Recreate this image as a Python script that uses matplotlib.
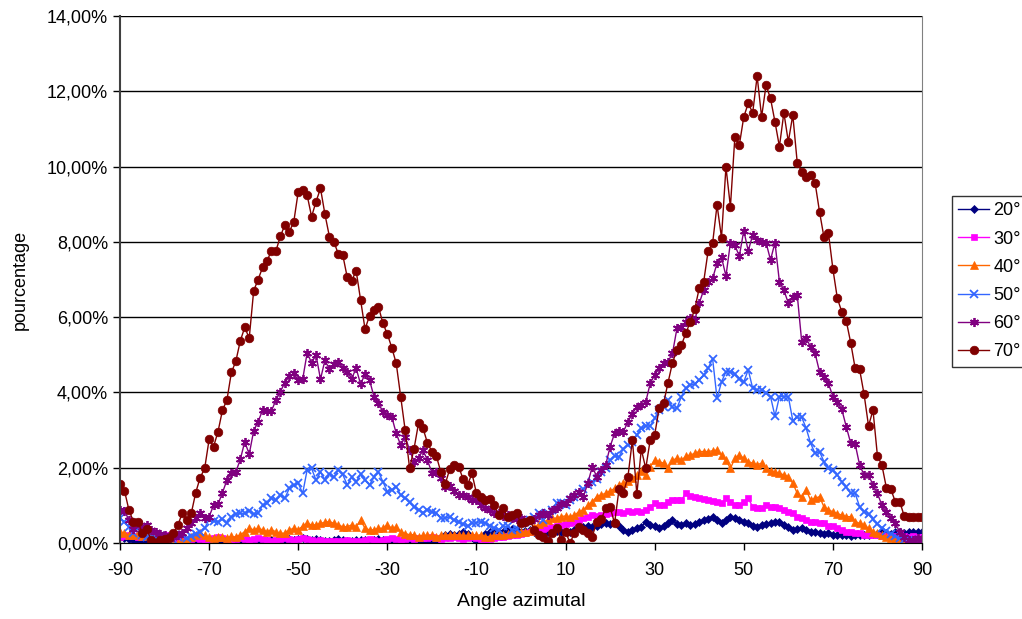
import numpy as np
import matplotlib
matplotlib.use("Agg")
import matplotlib.pyplot as plt
from matplotlib.ticker import FuncFormatter

plt.rcParams['font.family'] = ['Liberation Sans', 'DejaVu Sans']
plt.rcParams['axes.unicode_minus'] = False

# azimuth angle, one value per degree
angles = np.arange(-90, 91)

# percentages, rows of 10 values (-90..-81, -80..-71, ...)
s20 = [0.15, 0.12, 0.10, 0.08, 0.05, 0.04, 0.05, 0.06, 0.04, 0.03,
       0.02, 0.03, 0.02, 0.04, 0.05, 0.03, 0.02, 0.03, 0.04, 0.05,
       0.04, 0.03, 0.05, 0.06, 0.04, 0.03, 0.05, 0.04, 0.03, 0.04,
       0.05, 0.04, 0.06, 0.05, 0.07, 0.06, 0.05, 0.08, 0.10, 0.08,
       0.10, 0.12, 0.10, 0.08, 0.10, 0.07, 0.05, 0.06, 0.08, 0.10,
       0.08, 0.06, 0.05, 0.07, 0.09, 0.08, 0.06, 0.08, 0.10, 0.08,
       0.06, 0.05, 0.04, 0.06, 0.05, 0.04, 0.05, 0.07, 0.05, 0.04,
       0.05, 0.08, 0.15, 0.22, 0.25, 0.22, 0.25, 0.28, 0.25, 0.15,
       0.05, 0.15, 0.25, 0.30, 0.33, 0.30, 0.30, 0.35, 0.38, 0.35,
       0.30, 0.33, 0.35, 0.30, 0.28, 0.30, 0.28, 0.30, 0.33, 0.30,
       0.32, 0.30, 0.35, 0.40, 0.42, 0.45, 0.42, 0.45, 0.50, 0.52,
       0.50, 0.55, 0.45, 0.35, 0.30, 0.35, 0.40, 0.43, 0.57, 0.48,
       0.45, 0.39, 0.45, 0.52, 0.61, 0.50, 0.48, 0.52, 0.48, 0.50,
       0.57, 0.61, 0.65, 0.70, 0.60, 0.52, 0.62, 0.70, 0.66, 0.60,
       0.57, 0.52, 0.45, 0.43, 0.48, 0.50, 0.52, 0.55, 0.57, 0.48,
       0.43, 0.35, 0.37, 0.39, 0.35, 0.30, 0.28, 0.26, 0.24, 0.26,
       0.22, 0.20, 0.22, 0.20, 0.18, 0.20, 0.22, 0.20, 0.22, 0.24,
       0.25, 0.28, 0.26, 0.25, 0.28, 0.30, 0.26, 0.28, 0.30, 0.28, 0.30]

s30 = [0.15, 0.18, 0.20, 0.18, 0.15, 0.17, 0.20, 0.18, 0.20, 0.22,
       0.20, 0.17, 0.15, 0.12, 0.10, 0.08, 0.10, 0.12, 0.10, 0.08,
       0.10, 0.12, 0.15, 0.12, 0.10, 0.08, 0.10, 0.12, 0.10, 0.08,
       0.10, 0.12, 0.10, 0.08, 0.05, 0.07, 0.10, 0.12, 0.10, 0.08,
       0.10, 0.12, 0.10, 0.08, 0.05, 0.07, 0.05, 0.04, 0.05, 0.06,
       0.05, 0.07, 0.05, 0.04, 0.05, 0.07, 0.10, 0.08, 0.06, 0.08,
       0.10, 0.12, 0.10, 0.08, 0.10, 0.12, 0.10, 0.12, 0.14, 0.12,
       0.15, 0.12, 0.10, 0.12, 0.14, 0.15, 0.12, 0.10, 0.12, 0.15,
       0.12, 0.10, 0.08, 0.10, 0.12, 0.15, 0.15, 0.18, 0.20, 0.22,
       0.25, 0.27, 0.30, 0.32, 0.35, 0.37, 0.40, 0.42, 0.45, 0.48,
       0.50, 0.54, 0.55, 0.60, 0.66, 0.70, 0.74, 0.72, 0.74, 0.78,
       0.80, 0.82, 0.83, 0.80, 0.85, 0.83, 0.85, 0.83, 0.88, 0.95,
       1.05, 1.00, 1.02, 1.10, 1.14, 1.14, 1.14, 1.32, 1.25, 1.23,
       1.19, 1.17, 1.14, 1.12, 1.08, 1.05, 1.19, 1.10, 1.00, 1.00,
       1.10, 1.19, 0.96, 0.94, 0.92, 1.00, 0.96, 0.96, 0.92, 0.88,
       0.83, 0.79, 0.70, 0.66, 0.61, 0.57, 0.57, 0.52, 0.52, 0.44,
       0.44, 0.39, 0.35, 0.30, 0.30, 0.26, 0.26, 0.21, 0.21, 0.20,
       0.20, 0.18, 0.18, 0.17, 0.18, 0.20, 0.18, 0.17, 0.18, 0.17, 0.17]

s40 = [0.30, 0.26, 0.22, 0.20, 0.25, 0.18, 0.20, 0.22, 0.18, 0.15,
       0.10, 0.06, 0.03, 0.00, 0.04, 0.08, 0.15, 0.22, 0.26, 0.20,
       0.15, 0.12, 0.17, 0.15, 0.12, 0.18, 0.15, 0.22, 0.30, 0.39,
       0.35, 0.39, 0.35, 0.30, 0.35, 0.30, 0.26, 0.26, 0.35, 0.39,
       0.35, 0.45, 0.52, 0.48, 0.48, 0.52, 0.55, 0.57, 0.52, 0.48,
       0.43, 0.43, 0.48, 0.43, 0.60, 0.39, 0.35, 0.35, 0.39, 0.39,
       0.48, 0.39, 0.43, 0.30, 0.25, 0.22, 0.22, 0.17, 0.20, 0.20,
       0.20, 0.17, 0.20, 0.20, 0.22, 0.22, 0.21, 0.20, 0.20, 0.21,
       0.20, 0.22, 0.17, 0.17, 0.20, 0.20, 0.22, 0.23, 0.26, 0.26,
       0.28, 0.30, 0.33, 0.43, 0.50, 0.57, 0.60, 0.66, 0.66, 0.70,
       0.72, 0.70, 0.74, 0.83, 0.88, 1.00, 1.10, 1.23, 1.28, 1.32,
       1.38, 1.45, 1.54, 1.59, 1.65, 1.72, 1.80, 1.90, 1.80, 2.03,
       2.20, 2.16, 2.12, 1.98, 2.20, 2.25, 2.20, 2.30, 2.34, 2.38,
       2.43, 2.43, 2.43, 2.45, 2.47, 2.34, 2.20, 1.98, 2.25, 2.34,
       2.25, 2.16, 2.12, 2.08, 2.12, 2.00, 1.92, 1.89, 1.85, 1.81,
       1.76, 1.59, 1.32, 1.23, 1.41, 1.14, 1.19, 1.23, 0.96, 0.88,
       0.83, 0.78, 0.74, 0.70, 0.70, 0.57, 0.52, 0.48, 0.39, 0.30,
       0.26, 0.21, 0.17, 0.12, 0.08, 0.04, 0.02, 0.00, 0.02, 0.05, 0.08]

s50 = [0.66, 0.56, 0.43, 0.26, 0.39, 0.22, 0.17, 0.15, 0.12, 0.18,
       0.10, 0.12, 0.08, 0.15, 0.20, 0.12, 0.18, 0.25, 0.30, 0.39,
       0.63, 0.59, 0.57, 0.63, 0.54, 0.70, 0.76, 0.79, 0.79, 0.86,
       0.76, 0.79, 1.00, 1.05, 1.19, 1.14, 1.27, 1.19, 1.45, 1.54,
       1.59, 1.32, 1.94, 1.98, 1.67, 1.89, 1.67, 1.84, 1.75, 1.94,
       1.82, 1.54, 1.75, 1.63, 1.83, 1.67, 1.54, 1.75, 1.89, 1.63,
       1.36, 1.41, 1.50, 1.27, 1.19, 1.08, 0.96, 0.88, 0.81, 0.88,
       0.83, 0.79, 0.66, 0.66, 0.70, 0.61, 0.55, 0.50, 0.46, 0.52,
       0.54, 0.57, 0.52, 0.44, 0.40, 0.35, 0.45, 0.44, 0.35, 0.36,
       0.52, 0.57, 0.61, 0.70, 0.79, 0.60, 0.79, 0.88, 1.07, 1.05,
       1.01, 1.14, 1.23, 1.32, 1.43, 1.54, 1.63, 1.69, 1.89, 1.98,
       2.20, 2.31, 2.29, 2.51, 2.60, 2.69, 2.87, 3.05, 3.11, 3.11,
       3.31, 3.53, 3.62, 3.80, 3.60, 3.58, 3.89, 4.11, 4.20, 4.22,
       4.33, 4.46, 4.64, 4.90, 3.84, 4.28, 4.55, 4.55, 4.49, 4.37,
       4.28, 4.60, 4.11, 4.06, 4.06, 3.98, 3.89, 3.37, 3.89, 3.89,
       3.89, 3.25, 3.35, 3.34, 3.05, 2.65, 2.38, 2.43, 2.16, 1.98,
       1.94, 1.81, 1.63, 1.48, 1.32, 1.32, 0.96, 0.83, 0.77, 0.63,
       0.50, 0.41, 0.32, 0.25, 0.18, 0.12, 0.08, 0.08, 0.08, 0.08, 0.04]

s60 = [0.88, 0.86, 0.61, 0.36, 0.52, 0.42, 0.48, 0.35, 0.30, 0.25,
       0.20, 0.15, 0.15, 0.20, 0.26, 0.39, 0.52, 0.66, 0.80, 0.66,
       0.70, 1.00, 1.03, 1.34, 1.67, 1.85, 1.89, 2.22, 2.69, 2.36,
       2.98, 3.22, 3.53, 3.51, 3.51, 3.80, 4.02, 4.26, 4.43, 4.51,
       4.33, 4.35, 5.05, 4.79, 4.99, 4.35, 4.86, 4.61, 4.75, 4.82,
       4.64, 4.55, 4.37, 4.64, 4.22, 4.49, 4.33, 3.89, 3.71, 3.49,
       3.41, 3.35, 2.91, 2.60, 2.82, 2.47, 2.16, 2.25, 2.47, 2.20,
       1.87, 1.89, 1.72, 1.50, 1.51, 1.39, 1.27, 1.27, 1.23, 1.14,
       1.14, 1.00, 0.92, 0.88, 0.80, 0.80, 0.72, 0.74, 0.66, 0.64,
       0.66, 0.55, 0.60, 0.64, 0.74, 0.80, 0.74, 0.88, 0.92, 1.04,
       1.05, 1.19, 1.27, 1.36, 1.23, 1.59, 2.03, 1.76, 1.94, 2.07,
       2.56, 2.91, 2.98, 2.96, 3.22, 3.44, 3.62, 3.67, 3.75, 4.24,
       4.46, 4.64, 4.77, 4.82, 5.04, 5.70, 5.75, 5.88, 5.97, 5.92,
       6.37, 6.72, 6.94, 7.03, 7.43, 7.59, 7.09, 7.98, 7.91, 7.62,
       8.30, 7.76, 8.18, 8.05, 8.00, 7.98, 7.52, 7.98, 6.94, 6.72,
       6.37, 6.54, 6.59, 5.35, 5.44, 5.21, 5.04, 4.55, 4.42, 4.24,
       3.89, 3.75, 3.55, 3.09, 2.65, 2.63, 2.07, 1.81, 1.81, 1.54,
       1.32, 1.00, 0.83, 0.66, 0.52, 0.30, 0.17, 0.08, 0.08, 0.12, 0.08]

s70 = [1.57, 1.39, 0.88, 0.57, 0.57, 0.26, 0.37, 0.08, 0.00, 0.08,
       0.10, 0.12, 0.27, 0.48, 0.80, 0.60, 0.79, 1.34, 1.74, 1.98,
       2.75, 2.56, 2.96, 3.53, 3.80, 4.53, 4.83, 5.37, 5.73, 5.44,
       6.70, 7.00, 7.32, 7.50, 7.76, 7.76, 8.15, 8.45, 8.27, 8.53,
       9.33, 9.39, 9.24, 8.67, 9.07, 9.42, 8.73, 8.14, 8.00, 7.68,
       7.65, 7.06, 6.97, 7.23, 6.45, 5.68, 6.04, 6.19, 6.28, 5.84,
       5.55, 5.19, 4.77, 3.89, 3.00, 1.98, 2.51, 3.18, 3.05, 2.66,
       2.43, 2.31, 1.89, 1.57, 1.96, 2.07, 2.03, 1.70, 1.54, 1.85,
       1.32, 1.23, 1.14, 1.16, 1.00, 0.74, 0.92, 0.68, 0.74, 0.79,
       0.52, 0.57, 0.61, 0.35, 0.21, 0.17, 0.06, 0.26, 0.39, 0.08,
       0.30, 0.00, 0.27, 0.43, 0.35, 0.26, 0.17, 0.57, 0.63, 0.92,
       0.96, 0.52, 1.43, 1.34, 1.76, 2.74, 1.30, 2.49, 1.98, 2.74,
       2.87, 3.58, 3.71, 4.26, 4.79, 5.13, 5.26, 5.57, 5.88, 6.21,
       6.77, 6.94, 7.76, 7.96, 8.98, 8.11, 9.99, 8.93, 10.79, 10.57,
       11.32, 11.68, 11.43, 12.40, 11.32, 12.16, 11.81, 11.19, 10.53, 11.43,
       10.66, 11.37, 10.10, 9.86, 9.73, 9.77, 9.57, 8.80, 8.12, 8.24,
       7.28, 6.50, 6.14, 5.90, 5.32, 4.64, 4.61, 3.95, 3.11, 3.53,
       2.31, 2.07, 1.47, 1.43, 1.10, 1.10, 0.72, 0.70, 0.70, 0.69, 0.69]

labels = ['20°', '30°', '40°', '50°', '60°', '70°']
series = [s20, s30, s40, s50, s60, s70]
colors = ['#000080', '#FF00FF', '#FF6600', '#3366FF', '#800080', '#800000']
markers = ['D', 's', '^', 'x', (6, 2, 0), 'o']
msizes = [3.8, 5.0, 5.5, 6.0, 6.5, 6.2]

fig = plt.figure(figsize=(10.22, 6.19), dpi=100)
ax = fig.add_axes([120 / 1022, 1 - 543 / 619, 802 / 1022, 527 / 619])

for vals, lab, col, mk, ms in zip(series, labels, colors, markers, msizes):
    ax.plot(angles, vals, color=col, marker=mk, markersize=ms, lw=1.0,
            markeredgewidth=1.3 if mk in ('x', (6, 2, 0)) else 0.5,
            markeredgecolor=col, label=lab)

ax.set_xlim(-90, 90)
ax.set_ylim(0, 14)
ax.set_xticks(np.arange(-90, 91, 20))
ax.set_yticks(np.arange(0, 14.1, 2))
ax.yaxis.set_major_formatter(FuncFormatter(lambda v, p: f"{v:.2f}%".replace('.', ',')))
ax.grid(axis='y', color='black', lw=1.0)
ax.set_axisbelow(True)
ax.tick_params(axis='both', direction='out', length=5, labelsize=13, width=1)
ax.tick_params(axis='x', pad=9)

ax.spines['top'].set_visible(False)
ax.spines['left'].set_color('#404040')
ax.spines['left'].set_linewidth(1.5)
ax.spines['right'].set_color('#808080')
ax.spines['bottom'].set_color('black')

ax.set_xlabel('Angle azimutal', fontsize=14, labelpad=10)
ax.set_ylabel('pourcentage', fontsize=13, labelpad=13)

leg = fig.legend(loc='upper left', bbox_to_anchor=(952 / 1022, 1 - 196 / 619),
                 borderaxespad=0, fontsize=13, frameon=True, fancybox=False,
                 edgecolor='black', handlelength=1.7, labelspacing=0.62,
                 handletextpad=0.25, borderpad=0.35)
leg.get_frame().set_linewidth(1.0)

fig.savefig('out.png', dpi=100)
